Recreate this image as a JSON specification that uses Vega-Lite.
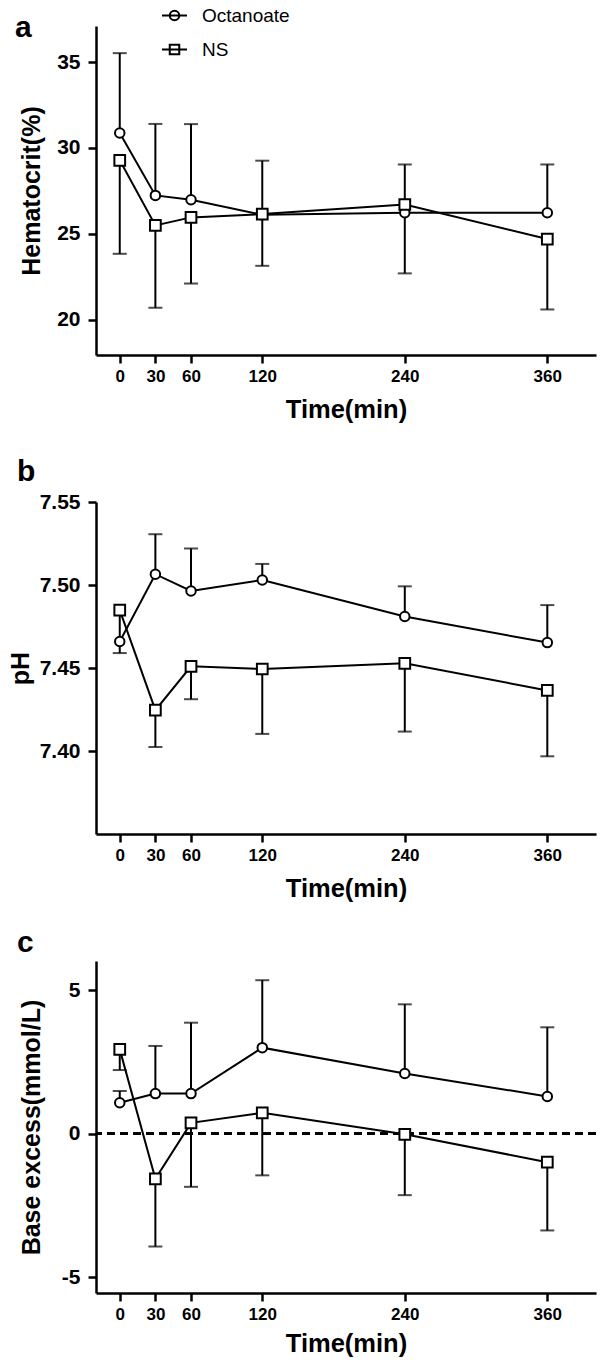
{
  "$schema": "https://vega.github.io/schema/vega-lite/v6.json",
  "background": "white",
  "padding": {"left": 8, "top": 2, "right": 3, "bottom": 4},
  "config": {
    "font": "Liberation Sans",
    "view": {"stroke": null},
    "axis": {"domainColor": "black", "domainWidth": 2.5, "tickColor": "black", "tickWidth": 2.5, "tickSize": 8, "grid": false, "labelColor": "black", "titleColor": "black", "labelFont": "Liberation Sans", "titleFont": "Liberation Sans", "labelFontWeight": "bold", "titleFontWeight": "bold"},
    "axisX": {"labelFontSize": 17, "titleFontSize": 25.5, "labelPadding": 5, "titlePadding": 13},
    "axisY": {"labelFontSize": 21, "titleFontSize": 25, "labelPadding": 8},
    "title": {"font": "Liberation Sans", "fontSize": 30, "fontWeight": "bold", "color": "black", "anchor": "start", "frame": "group"}
  },
  "data": {"values": [
    {"panel": "a", "group": "Octanoate", "time": 0, "mean": 30.87, "err": 35.52},
    {"panel": "a", "group": "Octanoate", "time": 30, "mean": 27.24, "err": 31.40},
    {"panel": "a", "group": "Octanoate", "time": 60, "mean": 26.99, "err": 31.39},
    {"panel": "a", "group": "Octanoate", "time": 120, "mean": 26.11, "err": 29.26},
    {"panel": "a", "group": "Octanoate", "time": 240, "mean": 26.23, "err": 29.04},
    {"panel": "a", "group": "Octanoate", "time": 360, "mean": 26.23, "err": 29.04},
    {"panel": "a", "group": "NS", "time": 0, "mean": 29.28, "err": 23.84},
    {"panel": "a", "group": "NS", "time": 30, "mean": 25.49, "err": 20.70},
    {"panel": "a", "group": "NS", "time": 60, "mean": 25.96, "err": 22.11},
    {"panel": "a", "group": "NS", "time": 120, "mean": 26.15, "err": 23.14},
    {"panel": "a", "group": "NS", "time": 240, "mean": 26.71, "err": 22.70},
    {"panel": "a", "group": "NS", "time": 360, "mean": 24.70, "err": 20.60},
    {"panel": "b", "group": "Octanoate", "time": 0, "mean": 7.466, "err": null},
    {"panel": "b", "group": "Octanoate", "time": 30, "mean": 7.5065, "err": 7.5306},
    {"panel": "b", "group": "Octanoate", "time": 60, "mean": 7.4964, "err": 7.522},
    {"panel": "b", "group": "Octanoate", "time": 120, "mean": 7.503, "err": 7.5127},
    {"panel": "b", "group": "Octanoate", "time": 240, "mean": 7.481, "err": 7.4992},
    {"panel": "b", "group": "Octanoate", "time": 360, "mean": 7.4653, "err": 7.4879},
    {"panel": "b", "group": "NS", "time": 0, "mean": 7.4849, "err": 7.459},
    {"panel": "b", "group": "NS", "time": 30, "mean": 7.4246, "err": 7.4024},
    {"panel": "b", "group": "NS", "time": 60, "mean": 7.451, "err": 7.4312},
    {"panel": "b", "group": "NS", "time": 120, "mean": 7.4494, "err": 7.4103},
    {"panel": "b", "group": "NS", "time": 240, "mean": 7.4528, "err": 7.4117},
    {"panel": "b", "group": "NS", "time": 360, "mean": 7.4365, "err": 7.3968},
    {"panel": "c", "group": "Octanoate", "time": 0, "mean": 1.08, "err": 1.49},
    {"panel": "c", "group": "Octanoate", "time": 30, "mean": 1.40, "err": 3.06},
    {"panel": "c", "group": "Octanoate", "time": 60, "mean": 1.40, "err": 3.87},
    {"panel": "c", "group": "Octanoate", "time": 120, "mean": 3.00, "err": 5.35},
    {"panel": "c", "group": "Octanoate", "time": 240, "mean": 2.10, "err": 4.51},
    {"panel": "c", "group": "Octanoate", "time": 360, "mean": 1.30, "err": 3.71},
    {"panel": "c", "group": "NS", "time": 0, "mean": 2.94, "err": 2.22},
    {"panel": "c", "group": "NS", "time": 30, "mean": -1.57, "err": -3.93},
    {"panel": "c", "group": "NS", "time": 60, "mean": 0.38, "err": -1.85},
    {"panel": "c", "group": "NS", "time": 120, "mean": 0.73, "err": -1.45},
    {"panel": "c", "group": "NS", "time": 240, "mean": -0.02, "err": -2.14},
    {"panel": "c", "group": "NS", "time": 360, "mean": -0.99, "err": -3.37}
  ]},
  "bounds": "flush",
  "spacing": 147,
  "vconcat": [
    {
      "width": 500, "height": 329,
      "title": {"text": "a", "dx": -81, "dy": 41, "offset": 0},
      "transform": [{"filter": "datum.panel === 'a'"}],
      "encoding": {
        "x": {"field": "time", "type": "quantitative", "scale": {"domain": [-20, 401], "nice": false, "zero": false}, "axis": {"values": [0, 30, 60, 120, 240, 360], "title": "Time(min)"}},
        "y": {"field": "mean", "type": "quantitative", "scale": {"domain": [17.95, 37.1], "nice": false, "zero": false}, "axis": {"values": [20, 25, 30, 35], "title": "Hematocrit(%)", "titlePadding": 12}}
      },
      "layer": [
        {"mark": {"type": "line", "color": "black", "strokeWidth": 2}, "encoding": {"detail": {"field": "group"}}},
        {"transform": [{"filter": "datum.err != null"}], "mark": {"type": "rule", "color": "black", "strokeWidth": 2}, "encoding": {"y2": {"field": "err"}}},
        {"transform": [{"filter": "datum.err != null"}], "mark": {"type": "tick", "orient": "horizontal", "color": "black", "thickness": 2, "size": 14},
         "encoding": {"y": {"field": "err", "type": "quantitative", "scale": {"domain": [17.95, 37.1], "nice": false, "zero": false}, "axis": {"values": [20, 25, 30, 35], "title": "Hematocrit(%)", "titlePadding": 12}}}},
        {"mark": {"type": "point", "filled": true, "fill": "white", "stroke": "black", "strokeWidth": 2, "opacity": 1},
         "encoding": {
           "shape": {"field": "group", "type": "nominal", "scale": {"domain": ["Octanoate", "NS"], "range": ["circle", "square"]}, "legend": null},
           "size": {"field": "group", "type": "nominal", "scale": {"domain": ["Octanoate", "NS"], "range": [90, 115]}, "legend": null}
         }},
        {"mark": {"type": "point", "filled": false, "opacity": 0, "color": "black"},
         "encoding": {
           "shape": {"field": "group", "type": "nominal", "scale": {"domain": ["Octanoate", "NS"], "range": ["M-1,0L1,0M0.38,0A0.38,0.38,0,1,1,-0.38,0A0.38,0.38,0,1,1,0.38,0", "M-1,0L1,0M-0.38,-0.38L0.38,-0.38L0.38,0.38L-0.38,0.38Z"]},
             "legend": {"title": null, "orient": "none", "legendX": 65, "legendY": -24, "direction": "vertical", "padding": 0, "symbolSize": 625, "symbolStrokeColor": "black", "symbolFillColor": "white", "symbolStrokeWidth": 2, "symbolOpacity": 1, "labelFontSize": 19, "labelFont": "Liberation Sans", "labelColor": "black", "labelOffset": 14, "rowPadding": 10,
               "encode": {"symbols": {"update": {"opacity": {"value": 1}, "fill": {"value": "white"}, "stroke": {"value": "black"}, "strokeWidth": {"value": 2}}}}}}
         }}
      ],
      "resolve": {"scale": {"shape": "independent"}, "legend": {"shape": "independent"}}
    },
    {
      "bounds": "flush",
      "spacing": 127,
      "vconcat": [
        {
          "width": 500, "height": 332,
          "title": {"text": "b", "dx": -79, "dy": -4, "offset": 0},
          "transform": [{"filter": "datum.panel === 'b'"}],
          "encoding": {
            "x": {"field": "time", "type": "quantitative", "scale": {"domain": [-20, 401], "nice": false, "zero": false}, "axis": {"values": [0, 30, 60, 120, 240, 360], "title": "Time(min)"}},
            "y": {"field": "mean", "type": "quantitative", "scale": {"domain": [7.35, 7.55], "nice": false, "zero": false}, "axis": {"values": [7.40, 7.45, 7.50, 7.55], "format": ".2f", "title": "pH", "titlePadding": 6}}
          },
          "layer": [
            {"mark": {"type": "line", "color": "black", "strokeWidth": 2}, "encoding": {"detail": {"field": "group"}}},
            {"transform": [{"filter": "datum.err != null"}], "mark": {"type": "rule", "color": "black", "strokeWidth": 2}, "encoding": {"y2": {"field": "err"}}},
            {"transform": [{"filter": "datum.err != null"}], "mark": {"type": "tick", "orient": "horizontal", "color": "black", "thickness": 2, "size": 14},
             "encoding": {"y": {"field": "err", "type": "quantitative", "scale": {"domain": [7.35, 7.55], "nice": false, "zero": false}, "axis": {"values": [7.40, 7.45, 7.50, 7.55], "format": ".2f", "title": "pH", "titlePadding": 6}}}},
            {"mark": {"type": "point", "filled": true, "fill": "white", "stroke": "black", "strokeWidth": 2, "opacity": 1},
             "encoding": {
               "shape": {"field": "group", "type": "nominal", "scale": {"domain": ["Octanoate", "NS"], "range": ["circle", "square"]}, "legend": null},
               "size": {"field": "group", "type": "nominal", "scale": {"domain": ["Octanoate", "NS"], "range": [90, 115]}, "legend": null}
             }}
          ]
        },
        {
          "width": 500, "height": 332,
          "title": {"text": "c", "dx": -79, "dy": -3, "offset": 0},
          "transform": [{"filter": "datum.panel === 'c'"}],
          "encoding": {
            "x": {"field": "time", "type": "quantitative", "scale": {"domain": [-20, 401], "nice": false, "zero": false}, "axis": {"values": [0, 30, 60, 120, 240, 360], "title": "Time(min)", "titlePadding": 9}},
            "y": {"field": "mean", "type": "quantitative", "scale": {"domain": [-5.55, 6.02], "nice": false, "zero": false}, "axis": {"values": [-5, 0, 5], "labelExpr": "replace(datum.label, '−', '-')", "title": "Base excess(mmol/L)", "titlePadding": 17}}
          },
          "layer": [
            {"mark": {"type": "rule", "color": "black", "strokeWidth": 2.2, "strokeDash": [8, 5]}, "encoding": {"x": null, "y": {"datum": 0}}},
            {"mark": {"type": "line", "color": "black", "strokeWidth": 2}, "encoding": {"detail": {"field": "group"}}},
            {"transform": [{"filter": "datum.err != null"}], "mark": {"type": "rule", "color": "black", "strokeWidth": 2}, "encoding": {"y2": {"field": "err"}}},
            {"transform": [{"filter": "datum.err != null"}], "mark": {"type": "tick", "orient": "horizontal", "color": "black", "thickness": 2, "size": 14},
             "encoding": {"y": {"field": "err", "type": "quantitative", "scale": {"domain": [-5.55, 6.02], "nice": false, "zero": false}, "axis": {"values": [-5, 0, 5], "labelExpr": "replace(datum.label, '−', '-')", "title": "Base excess(mmol/L)", "titlePadding": 17}}}},
            {"mark": {"type": "point", "filled": true, "fill": "white", "stroke": "black", "strokeWidth": 2, "opacity": 1},
             "encoding": {
               "shape": {"field": "group", "type": "nominal", "scale": {"domain": ["Octanoate", "NS"], "range": ["circle", "square"]}, "legend": null},
               "size": {"field": "group", "type": "nominal", "scale": {"domain": ["Octanoate", "NS"], "range": [90, 115]}, "legend": null}
             }}
          ]
        }
      ]
    }
  ]
}
